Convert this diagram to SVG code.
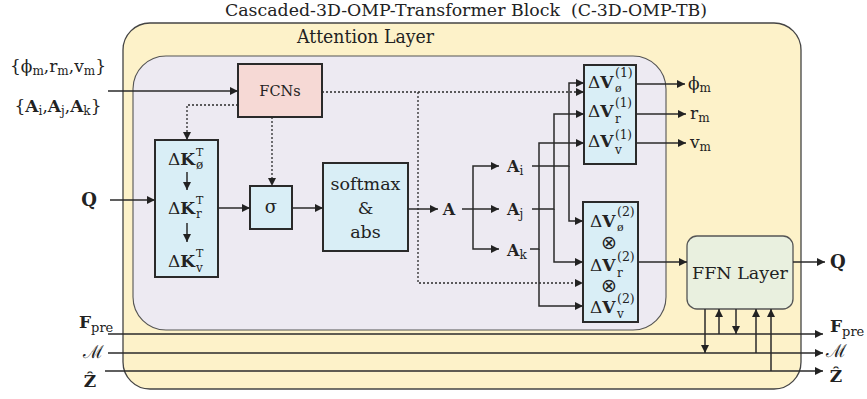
<svg xmlns="http://www.w3.org/2000/svg" width="867" height="399" viewBox="0 0 867 399">
<defs>
<style>
.t{font-family:"DejaVu Serif","Liberation Serif",serif;fill:#222;}
.s{font-family:"DejaVu Sans","Liberation Sans",sans-serif;fill:#222;}
.b{font-weight:bold;}
.ln{fill:none;stroke:#2a2a2a;stroke-width:1.5;}
.dt{fill:none;stroke:#2a2a2a;stroke-width:1.3;stroke-dasharray:2 2;}
.box{fill:#d9eef6;stroke:#2a2a2a;stroke-width:2;}
</style>
<marker id="ah" viewBox="0 0 10 10" refX="10" refY="5" markerWidth="10" markerHeight="8" markerUnits="userSpaceOnUse" orient="auto">
<path d="M0,0 L10,5 L0,10 z" fill="#222"/>
</marker>
</defs>
<rect width="867" height="399" fill="#ffffff"/>

<text class="t" x="466" y="16" font-size="17" text-anchor="middle" textLength="482" lengthAdjust="spacingAndGlyphs" fill="#2b2b2b">Cascaded-3D-OMP-Transformer Block&#160; (C-3D-OMP-TB)</text>

<g id="attention-layer">
<rect x="123" y="23" width="678" height="366" rx="27" fill="#fdf2c9" stroke="#444" stroke-width="1.3"/>
<text class="t" x="297" y="43" font-size="18" textLength="137" lengthAdjust="spacingAndGlyphs">Attention Layer</text>
</g>
<g id="inner-block">
<rect x="133" y="56" width="533" height="274" rx="33" fill="#edeaf2" stroke="#555" stroke-width="1.1"/>
</g>

<g id="inputs">
<text class="t" x="58" y="72" font-size="17" text-anchor="middle">{ϕ<tspan font-size="12" dy="3">m</tspan><tspan dy="-3">,r</tspan><tspan font-size="12" dy="3">m</tspan><tspan dy="-3">,v</tspan><tspan font-size="12" dy="3">m</tspan><tspan dy="-3">}</tspan></text>
<text class="t" x="58" y="112" font-size="17" text-anchor="middle">{<tspan class="b">A</tspan><tspan font-size="12" dy="3">i</tspan><tspan dy="-3">,</tspan><tspan class="b">A</tspan><tspan font-size="12" dy="3">j</tspan><tspan dy="-3">,</tspan><tspan class="b">A</tspan><tspan font-size="12" dy="3">k</tspan><tspan dy="-3">}</tspan></text>
<text class="t b" x="89" y="206" font-size="18" text-anchor="middle">Q</text>
<text class="t" x="79" y="328" font-size="17"><tspan class="b">F</tspan><tspan font-size="13" dy="4">pre</tspan></text>
<text class="t" x="93" y="358" font-size="18" text-anchor="middle">ℳ</text>
<text class="t b" x="90" y="387" font-size="17" text-anchor="middle">Ẑ</text>
</g>

<g id="fcns">
<rect x="238" y="64" width="84" height="53" fill="#f6d9d5" stroke="#2a2a2a" stroke-width="2"/>
<text class="t" x="280" y="96" font-size="14.5" text-anchor="middle">FCNs</text>
</g>

<g id="k-block">
<rect class="box" x="155" y="140" width="63" height="137"/>
<text class="t" x="168" y="165" font-size="17">Δ<tspan class="b">K</tspan></text>
<text class="t" x="196" y="156" font-size="11">T</text>
<text class="t" x="196" y="169" font-size="12">ø</text>
<text class="t" x="168" y="214" font-size="17">Δ<tspan class="b">K</tspan></text>
<text class="t" x="196" y="204" font-size="11">T</text>
<text class="t" x="196" y="218" font-size="12">r</text>
<text class="t" x="168" y="267" font-size="17">Δ<tspan class="b">K</tspan></text>
<text class="t" x="196" y="257" font-size="11">T</text>
<text class="t" x="196" y="272" font-size="12">v</text>
<path class="ln" d="M187,172 V190" marker-end="url(#ah)"/>
<path class="ln" d="M187,223 V242" marker-end="url(#ah)"/>
</g>

<g id="sigma">
<rect class="box" x="250" y="186" width="42" height="43"/>
<text class="t" x="271" y="213" font-size="18" text-anchor="middle">σ</text>
</g>

<g id="softmax">
<rect class="box" x="323" y="163" width="85" height="88"/>
<text class="t" x="365.5" y="190" font-size="17.5" text-anchor="middle">softmax</text>
<text class="t" x="365.5" y="214" font-size="17.5" text-anchor="middle">&amp;</text>
<text class="t" x="365.5" y="238" font-size="17.5" text-anchor="middle">abs</text>
</g>

<g id="a-labels">
<text class="t b" x="449" y="215" font-size="16" text-anchor="middle">A</text>
<text class="t" x="507" y="172" font-size="16"><tspan class="b">A</tspan><tspan font-size="12" dy="3">i</tspan></text>
<text class="t" x="507" y="215" font-size="16"><tspan class="b">A</tspan><tspan font-size="12" dy="3">j</tspan></text>
<text class="t" x="507" y="256" font-size="16"><tspan class="b">A</tspan><tspan font-size="12" dy="3">k</tspan></text>
</g>

<g id="dv1">
<rect class="box" x="584" y="65" width="52" height="99"/>
<text class="t" x="588" y="88" font-size="17">Δ<tspan class="b">V</tspan></text>
<text class="t" x="615" y="77" font-size="12.5">(1)</text>
<text class="t" x="615" y="92" font-size="11">ø</text>
<text class="t" x="588" y="117" font-size="17">Δ<tspan class="b">V</tspan></text>
<text class="t" x="615" y="107" font-size="12">(1)</text>
<text class="t" x="615" y="123" font-size="12">r</text>
<text class="t" x="588" y="147" font-size="17">Δ<tspan class="b">V</tspan></text>
<text class="t" x="615" y="139" font-size="12">(1)</text>
<text class="t" x="615" y="154" font-size="12">v</text>
</g>

<g id="dv2">
<rect class="box" x="583" y="202" width="55" height="120"/>
<text class="t" x="590" y="227" font-size="17">Δ<tspan class="b">V</tspan></text>
<text class="t" x="617" y="216" font-size="12.5">(2)</text>
<text class="t" x="617" y="231" font-size="11">ø</text>
<text class="s" x="609" y="249" font-size="19" text-anchor="middle">⊗</text>
<text class="t" x="590" y="271" font-size="17">Δ<tspan class="b">V</tspan></text>
<text class="t" x="617" y="261" font-size="12.5">(2)</text>
<text class="t" x="617" y="277" font-size="12">r</text>
<text class="s" x="609" y="292" font-size="19" text-anchor="middle">⊗</text>
<text class="t" x="590" y="313" font-size="17">Δ<tspan class="b">V</tspan></text>
<text class="t" x="617" y="303" font-size="12.5">(2)</text>
<text class="t" x="617" y="318" font-size="12">v</text>
</g>

<g id="outputs">
<text class="t" x="688" y="89" font-size="17">ϕ<tspan font-size="12" dy="3">m</tspan></text>
<text class="t" x="690" y="119" font-size="17">r<tspan font-size="12" dy="3">m</tspan></text>
<text class="t" x="690" y="148" font-size="17">v<tspan font-size="12" dy="3">m</tspan></text>
<text class="t b" x="830" y="268" font-size="18">Q</text>
<text class="t" x="830" y="332" font-size="17"><tspan class="b">F</tspan><tspan font-size="13" dy="4">pre</tspan></text>
<text class="t" x="836" y="357" font-size="18" text-anchor="middle">ℳ</text>
<text class="t b" x="836" y="382" font-size="17" text-anchor="middle">Ẑ</text>
</g>

<g id="ffn">
<rect x="687" y="236" width="106" height="73" rx="10" fill="#e9f0df" stroke="#555" stroke-width="1.3"/>
<text class="t" x="740" y="279" font-size="17.5" text-anchor="middle">FFN Layer</text>
</g>

<g id="connectors">
<path class="ln" d="M108,91 H238" marker-end="url(#ah)"/>
<path class="dt" d="M238,105 H187 V140" marker-end="url(#ah)"/>
<path class="dt" d="M272,117 V186" marker-end="url(#ah)"/>
<path class="dt" d="M322,92 H584" marker-end="url(#ah)"/>
<path class="dt" d="M418,92 V283 H583" marker-end="url(#ah)"/>
<path class="ln" d="M110,200 H155" marker-end="url(#ah)"/>
<path class="ln" d="M218,208 H250" marker-end="url(#ah)"/>
<path class="ln" d="M292,208 H323" marker-end="url(#ah)"/>
<path class="ln" d="M408,209 H438" marker-end="url(#ah)"/>
<path class="ln" d="M462,209 H499" marker-end="url(#ah)"/>
<path class="ln" d="M473,209 V166 H499" marker-end="url(#ah)"/>
<path class="ln" d="M473,209 V249 H499" marker-end="url(#ah)"/>
<path class="ln" d="M532,166 H569 V83 H584" marker-end="url(#ah)"/>
<path class="ln" d="M569,166 V221 H583" marker-end="url(#ah)"/>
<path class="ln" d="M532,209 H554 V114 H584" marker-end="url(#ah)"/>
<path class="ln" d="M554,209 V262 H583" marker-end="url(#ah)"/>
<path class="ln" d="M530,249 H539 V143 H584" marker-end="url(#ah)"/>
<path class="ln" d="M539,249 V306 H583" marker-end="url(#ah)"/>
<path class="ln" d="M636,84 H685" marker-end="url(#ah)"/>
<path class="ln" d="M636,114 H686" marker-end="url(#ah)"/>
<path class="ln" d="M636,143 H686" marker-end="url(#ah)"/>
<path class="ln" d="M638,262 H687" marker-end="url(#ah)"/>
<path class="ln" d="M793,262 H825" marker-end="url(#ah)"/>
<path class="ln" d="M108,334 H823" marker-end="url(#ah)"/>
<path class="ln" d="M108,353 H823" marker-end="url(#ah)"/>
<path class="ln" d="M105,371 H823" marker-end="url(#ah)"/>
<path class="ln" d="M705,309 V353" marker-end="url(#ah)"/>
<path class="ln" d="M719,334 V309" marker-end="url(#ah)"/>
<path class="ln" d="M736,309 V334" marker-end="url(#ah)"/>
<path class="ln" d="M756,353 V309" marker-end="url(#ah)"/>
<path class="ln" d="M771,371 V309" marker-end="url(#ah)"/>
</g>
</svg>
